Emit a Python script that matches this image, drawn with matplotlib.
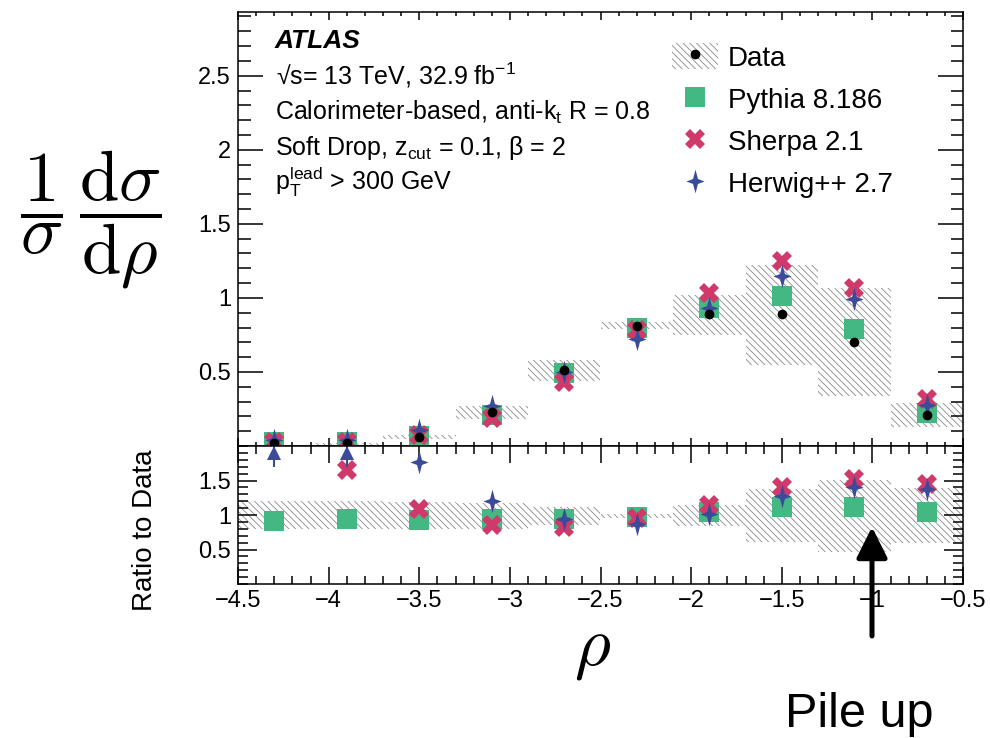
import numpy as np
import matplotlib
matplotlib.use("Agg")
import matplotlib.pyplot as plt
from matplotlib.path import Path
from matplotlib.patches import Patch, ArrowStyle
from matplotlib.lines import Line2D
from matplotlib.font_manager import FontProperties
from matplotlib.ticker import MultipleLocator, FuncFormatter

plt.rcParams['font.family'] = ['Liberation Sans', 'DejaVu Sans']
plt.rcParams['mathtext.fontset'] = 'custom'
plt.rcParams['mathtext.rm'] = 'Liberation Sans'
plt.rcParams['mathtext.it'] = 'Liberation Sans:italic'
plt.rcParams['mathtext.bf'] = 'Liberation Sans:bold'
plt.rcParams['hatch.linewidth'] = 0.6

# rho bins
edges = [-4.5, -4.1, -3.7, -3.3, -2.9, -2.5, -2.1, -1.7, -1.3, -0.9, -0.5]

# unfolded data and total uncertainty band
data = [0.02, 0.02, 0.06, 0.23, 0.51, 0.81, 0.89, 0.89, 0.70, 0.21]
data_lo = [0.0, 0.01, 0.045, 0.18, 0.44, 0.79, 0.75, 0.545, 0.335, 0.126]
data_hi = [0.0, 0.02, 0.075, 0.27, 0.58, 0.84, 1.02, 1.225, 1.07, 0.29]

# generators
pythia = [0.03, 0.03, 0.065, 0.21, 0.49, 0.80, 0.93, 1.01, 0.79, 0.22]
sherpa = [0.03, 0.03, 0.075, 0.19, 0.43, 0.78, 1.03, 1.25, 1.07, 0.32]
herwig = [0.04, 0.04, 0.11, 0.27, 0.50, 0.72, 0.93, 1.15, 0.99, 0.28]

# ratio panel
ratio_lo = [0.79, 0.80, 0.79, 0.80, 0.85, 0.96, 0.84, 0.61, 0.46, 0.59]
ratio_hi = [1.20, 1.20, 1.19, 1.18, 1.12, 1.02, 1.14, 1.37, 1.51, 1.39]
pythia_ratio = [0.92, 0.935, 0.93, 0.94, 0.945, 0.97, 1.04, 1.12, 1.11, 1.05]
sherpa_ratio = [np.nan, 1.645, 1.09, 0.86, 0.82, 0.96, 1.15, 1.41, 1.52, 1.45]
herwig_ratio = [2.5, 2.5, 1.77, 1.20, 0.945, 0.87, 1.02, 1.28, 1.40, 1.38]

labels = ['Data', 'Pythia 8.186', 'Sherpa 2.1', 'Herwig++ 2.7']

c_pythia = '#43b883'
c_sherpa = '#cf3a6a'
c_herwig = '#3c4b99'
c_hatch = '#8a8a8a'
hatch = '\\' * 5

edges = np.array(edges)
centers = 0.5 * (edges[:-1] + edges[1:])
widths = np.diff(edges)

star = Path([(0, 1.3), (0.27, 0.27), (1, 0), (0.27, -0.27), (0, -1.3),
             (-0.27, -0.27), (-1, 0), (-0.27, 0.27), (0, 1.3)],
            [Path.MOVETO] + [Path.LINETO] * 7 + [Path.CLOSEPOLY])

W, H = 990, 738
def fx(px):
    return px / W
def fy(py):
    return 1 - py / H

fig = plt.figure(figsize=(9.9, 7.38), dpi=100)
ax1 = fig.add_axes([fx(238), fy(446), fx(963) - fx(238), fy(12) - fy(446)])
ax2 = fig.add_axes([fx(238), fy(584), fx(963) - fx(238), fy(446) - fy(584)])

fmt = FuncFormatter(lambda v, p: ('%g' % v).replace('-', '\u2212'))

def band(ax, lo, hi):
    lo = np.array(lo)
    hi = np.array(hi)
    ax.bar(centers, hi - lo, width=widths, bottom=lo, fill=False,
           hatch=hatch, edgecolor=c_hatch, linewidth=0, zorder=1)

def markers(ax, p, s, h, d=None):
    ax.plot(centers, p, ls='none', marker='s', ms=14.5, mew=0, color=c_pythia, zorder=3)
    ax.plot(centers, s, ls='none', marker='X', ms=15, mew=0, color=c_sherpa, zorder=4)
    ax.plot(centers, h, ls='none', marker=star, ms=17, mew=0, color=c_herwig, zorder=5)
    if d is not None:
        ax.plot(centers, d, ls='none', marker='o', ms=7, mew=0, color='black', zorder=6)

band(ax1, data_lo, data_hi)
markers(ax1, pythia, sherpa, herwig, data)

band(ax2, ratio_lo, ratio_hi)
markers(ax2, pythia_ratio, sherpa_ratio, herwig_ratio)

# off-scale points in the ratio panel get an arrow at the top edge
ratio_top = 2.0
hr = np.array(herwig_ratio)
off = hr > ratio_top
ax2.vlines(centers[off], 1.69, 1.86, color=c_herwig, lw=1.5, zorder=5)
ax2.plot(centers[off], np.full(off.sum(), 1.9), ls='none', marker='^', ms=10,
         mew=0, color=c_herwig, zorder=6)

ax1.set_xlim(-4.5, -0.5)
ax2.set_xlim(-4.5, -0.5)
ax1.set_ylim(0, 2.93)
ax2.set_ylim(0, ratio_top)

ax1.set_yticks([0.5, 1, 1.5, 2, 2.5])
ax2.set_yticks([0.5, 1, 1.5])
for ax in (ax1, ax2):
    ax.xaxis.set_major_locator(MultipleLocator(0.5))
    ax.xaxis.set_minor_locator(MultipleLocator(0.1))
    ax.yaxis.set_minor_locator(MultipleLocator(0.1))
    ax.xaxis.set_major_formatter(fmt)
    ax.yaxis.set_major_formatter(fmt)
    for sp in ax.spines.values():
        sp.set_linewidth(1.1)
    ax.tick_params(which='both', direction='in', top=True, right=True,
                   labelsize=17, width=1.1, pad=5)

ax1.tick_params(axis='y', which='major', length=18)
ax1.tick_params(axis='y', which='minor', length=9)
ax1.tick_params(axis='x', which='major', length=6)
ax1.tick_params(axis='x', which='minor', length=3)
ax1.tick_params(axis='x', labelbottom=False)
ax2.tick_params(axis='y', which='major', length=14)
ax2.tick_params(axis='y', which='minor', length=7)
ax2.tick_params(axis='x', which='major', length=12, pad=4)
ax2.tick_params(axis='x', which='minor', length=6)

# legend
h_data = (Patch(fill=False, hatch=hatch, edgecolor=c_hatch, linewidth=0),
          Line2D([], [], ls='none', marker='o', ms=7, mew=0, color='black'))
h_py = Line2D([], [], ls='none', marker='s', ms=14.5, mew=0, color=c_pythia)
h_sh = Line2D([], [], ls='none', marker='X', ms=15, mew=0, color=c_sherpa)
h_hw = Line2D([], [], ls='none', marker=star, ms=17, mew=0, color=c_herwig)
ax1.legend([h_data, h_py, h_sh, h_hw], labels, loc='upper left',
           bbox_to_anchor=(0.599, 0.928), frameon=False, fontsize=20,
           handlelength=1.65, handleheight=1.05, handletextpad=0.36,
           labelspacing=0.5, borderpad=0, borderaxespad=0)

# labels
fig.text(fx(275), fy(48), 'ATLAS', fontsize=19, weight='bold', style='italic')
fig.text(fx(276), fy(84), '\u221as= 13 TeV, 32.9 fb$^{\\mathrm{-1}}$', fontsize=18)
fig.text(fx(275), fy(120), 'Calorimeter-based, anti-k$_{\\mathrm{t}}$ R = 0.8', fontsize=18)
fig.text(fx(275), fy(155), 'Soft Drop, z$_{\\mathrm{cut}}$ = 0.1, \u03b2 = 2', fontsize=18)
fig.text(fx(275), fy(190), 'p$_{\\mathrm{T}}^{\\mathrm{lead}}$ > 300 GeV', fontsize=18)

fig.text(fx(91), fy(220), r'$\dfrac{1}{\sigma}\,\dfrac{\mathrm{d}\sigma}{\mathrm{d}\rho}$',
         fontproperties=FontProperties(size=51, math_fontfamily='cm'),
         ha='center', va='center')
fig.text(fx(145), fy(530), 'Ratio to Data', fontsize=20, rotation=90,
         ha='center', va='center')
fig.text(fx(592), fy(650), r'$\rho$',
         fontproperties=FontProperties(size=50, math_fontfamily='cm'),
         ha='center', va='center')

fig.text(fx(785), fy(727), 'Pile up', fontsize=35, va='baseline')
ax2.annotate('', xy=(fx(872), fy(527)), xycoords='figure fraction',
             xytext=(fx(872), fy(636)), textcoords='figure fraction',
             arrowprops=dict(arrowstyle=ArrowStyle('-|>', head_length=0.4, head_width=0.2),
                             mutation_scale=47, lw=3.6, color='black',
                             shrinkA=0, shrinkB=0),
             annotation_clip=False)

fig.savefig('out.png', dpi=100)
